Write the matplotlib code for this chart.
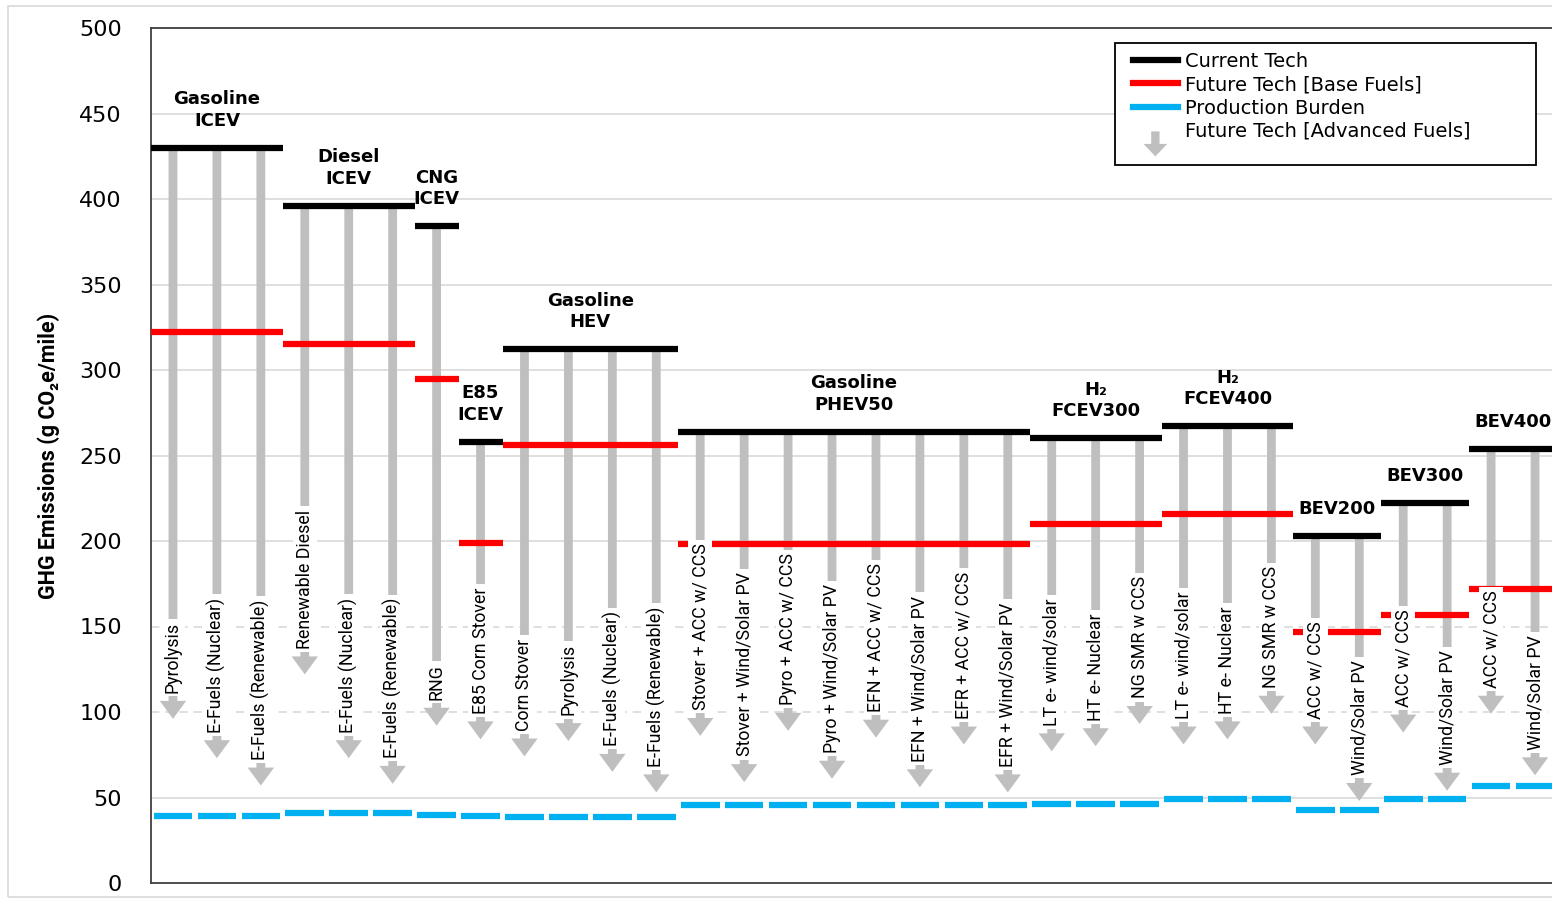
import numpy as np
import matplotlib.pyplot as plt
from matplotlib.patches import FancyArrow, Rectangle, Patch
from matplotlib.lines import Line2D
from matplotlib.legend_handler import HandlerPatch

# vehicle groups
groups = ['Gasoline\nICEV', 'Diesel\nICEV', 'CNG\nICEV', 'E85\nICEV', 'Gasoline\nHEV',
          'Gasoline\nPHEV50', 'H\u2082\nFCEV300', 'H\u2082\nFCEV400', 'BEV200', 'BEV300', 'BEV400']
current = [430, 396, 384, 258, 312, 264, 260, 267, 203, 222, 254]
future = [322, 315, 295, 199, 256, 198, 210, 216, 147, 157, 172]
burden = [39, 41, 40, 39, 38.5, 45.5, 46, 49, 42.5, 49, 57]

# advanced fuel pathways and where their arrows end
paths = [
    ['Pyrolysis', 'E-Fuels (Nuclear)', 'E-Fuels (Renewable)'],
    ['Renewable Diesel', 'E-Fuels (Nuclear)', 'E-Fuels (Renewable)'],
    ['RNG'],
    ['E85 Corn Stover'],
    ['Corn Stover', 'Pyrolysis', 'E-Fuels (Nuclear)', 'E-Fuels (Renewable)'],
    ['Stover + ACC w/ CCS', 'Stover + Wind/Solar PV', 'Pyro + ACC w/ CCS', 'Pyro + Wind/Solar PV',
     'EFN + ACC w/ CCS', 'EFN + Wind/Solar PV', 'EFR + ACC w/ CCS', 'EFR + Wind/Solar PV'],
    ['LT e- wind/solar', 'HT e- Nuclear', 'NG SMR w CCS'],
    ['LT e- wind/solar', 'HT e- Nuclear', 'NG SMR w CCS'],
    ['ACC w/ CCS', 'Wind/Solar PV'],
    ['ACC w/ CCS', 'Wind/Solar PV'],
    ['ACC w/ CCS', 'Wind/Solar PV'],
]
ends = [
    [96, 73, 57],
    [122, 73, 58],
    [92],
    [84],
    [74, 83, 65, 53],
    [86, 59, 89, 61, 85, 56, 81, 53],
    [77, 80, 93],
    [81, 84, 99],
    [81, 48],
    [88, 54],
    [99, 63],
]

narrow = ['Roboto', 'DejaVu Sans']
grey = '#BFBFBF'

fig = plt.figure(figsize=(15.52, 9.0), dpi=100)
ax = fig.add_axes([151 / 1552, 17 / 900, 1406 / 1552, 855 / 900])

# gridlines (lower two are dashed in the original)
for v in range(50, 501, 50):
    ls = (0, (5, 3.5)) if v in (100, 150) else '-'
    ax.axhline(v, color='#D9D9D9', lw=1.2, ls=ls, zorder=0.5)

pos = 0
for g in range(len(groups)):
    n = len(paths[g])
    x0, x1 = pos, pos + n
    ax.hlines(current[g], x0, x1, color='black', lw=4.5, zorder=3)
    ax.hlines(future[g], x0, x1, color='#FF0000', lw=4.5, zorder=3)
    for k in range(n):
        xc = pos + k + 0.5
        ax.hlines(burden[g], pos + k + 0.06, pos + k + 0.94, color='#00B0F0', lw=4.5, zorder=3)
        ax.arrow(xc, current[g], 0, ends[g][k] - current[g], width=0.2, head_width=0.6,
                 head_length=10.5, length_includes_head=True, fc=grey, ec='none', zorder=2)
        ax.text(xc, ends[g][k] + 15, paths[g][k], rotation=90, ha='center', va='bottom',
                fontsize=12.8, family=narrow, zorder=4,
                bbox=dict(boxstyle='square,pad=0.18', fc='white', ec='none'))
    ax.annotate(groups[g], xy=((x0 + x1) / 2, current[g]), xytext=(0, 13),
                textcoords='offset points', ha='center', va='bottom', fontsize=13,
                fontweight='bold', linespacing=1.25, zorder=4)
    pos += n

ax.set_xlim(0, pos)
ax.set_ylim(0, 500)
ax.set_xticks([])
ax.set_yticks(range(0, 501, 50))
ax.tick_params(axis='y', length=0, pad=21, labelsize=16)
for s in ax.spines.values():
    s.set_color('#404040')
    s.set_linewidth(1.3)
ax.set_ylabel('GHG Emissions (g CO\u2082e/mile)', fontsize=15.5, fontweight='bold',
              family=narrow, labelpad=14)


def make_arrow(legend, orig_handle, xdescent, ydescent, width, height, fontsize):
    return FancyArrow(-xdescent + width / 2, height / 2 - 1, 0, -18, width=6,
                      head_width=17, head_length=9, length_includes_head=True)


h_arrow = Patch(fc=grey, ec='none')
handles = [Line2D([], [], color='black', lw=4.5),
           Line2D([], [], color='#FF0000', lw=4.5),
           Line2D([], [], color='#00B0F0', lw=4.5),
           h_arrow]
labels = ['Current Tech', 'Future Tech [Base Fuels]', 'Production Burden',
          'Future Tech [Advanced Fuels]']

# legend frame drawn separately so its size matches the original box
box_l, box_t, box_r, box_b = 1115, 43, 1536, 165
ax.add_patch(Rectangle(((box_l - 151) / 1406, (883 - box_b) / 855),
                       (box_r - box_l) / 1406, (box_b - box_t) / 855,
                       transform=ax.transAxes, fc='white', ec='black', lw=1.3, zorder=5))
leg = ax.legend(handles, labels, loc='upper left',
                bbox_to_anchor=((1133 - 151) / 1406, (883 - 52) / 855),
                borderaxespad=0, borderpad=0, fontsize=14, handlelength=2.3,
                handletextpad=0.36, labelspacing=0.22, frameon=False,
                handler_map={h_arrow: HandlerPatch(patch_func=make_arrow)})
leg.set_zorder(6)

# light border around the chart area
fig.add_artist(Rectangle((8 / 1552, 3 / 900), 1.0, 891 / 900, transform=fig.transFigure,
                         fill=False, ec='#D9D9D9', lw=1.2))

fig.savefig('out.png', dpi=100)
